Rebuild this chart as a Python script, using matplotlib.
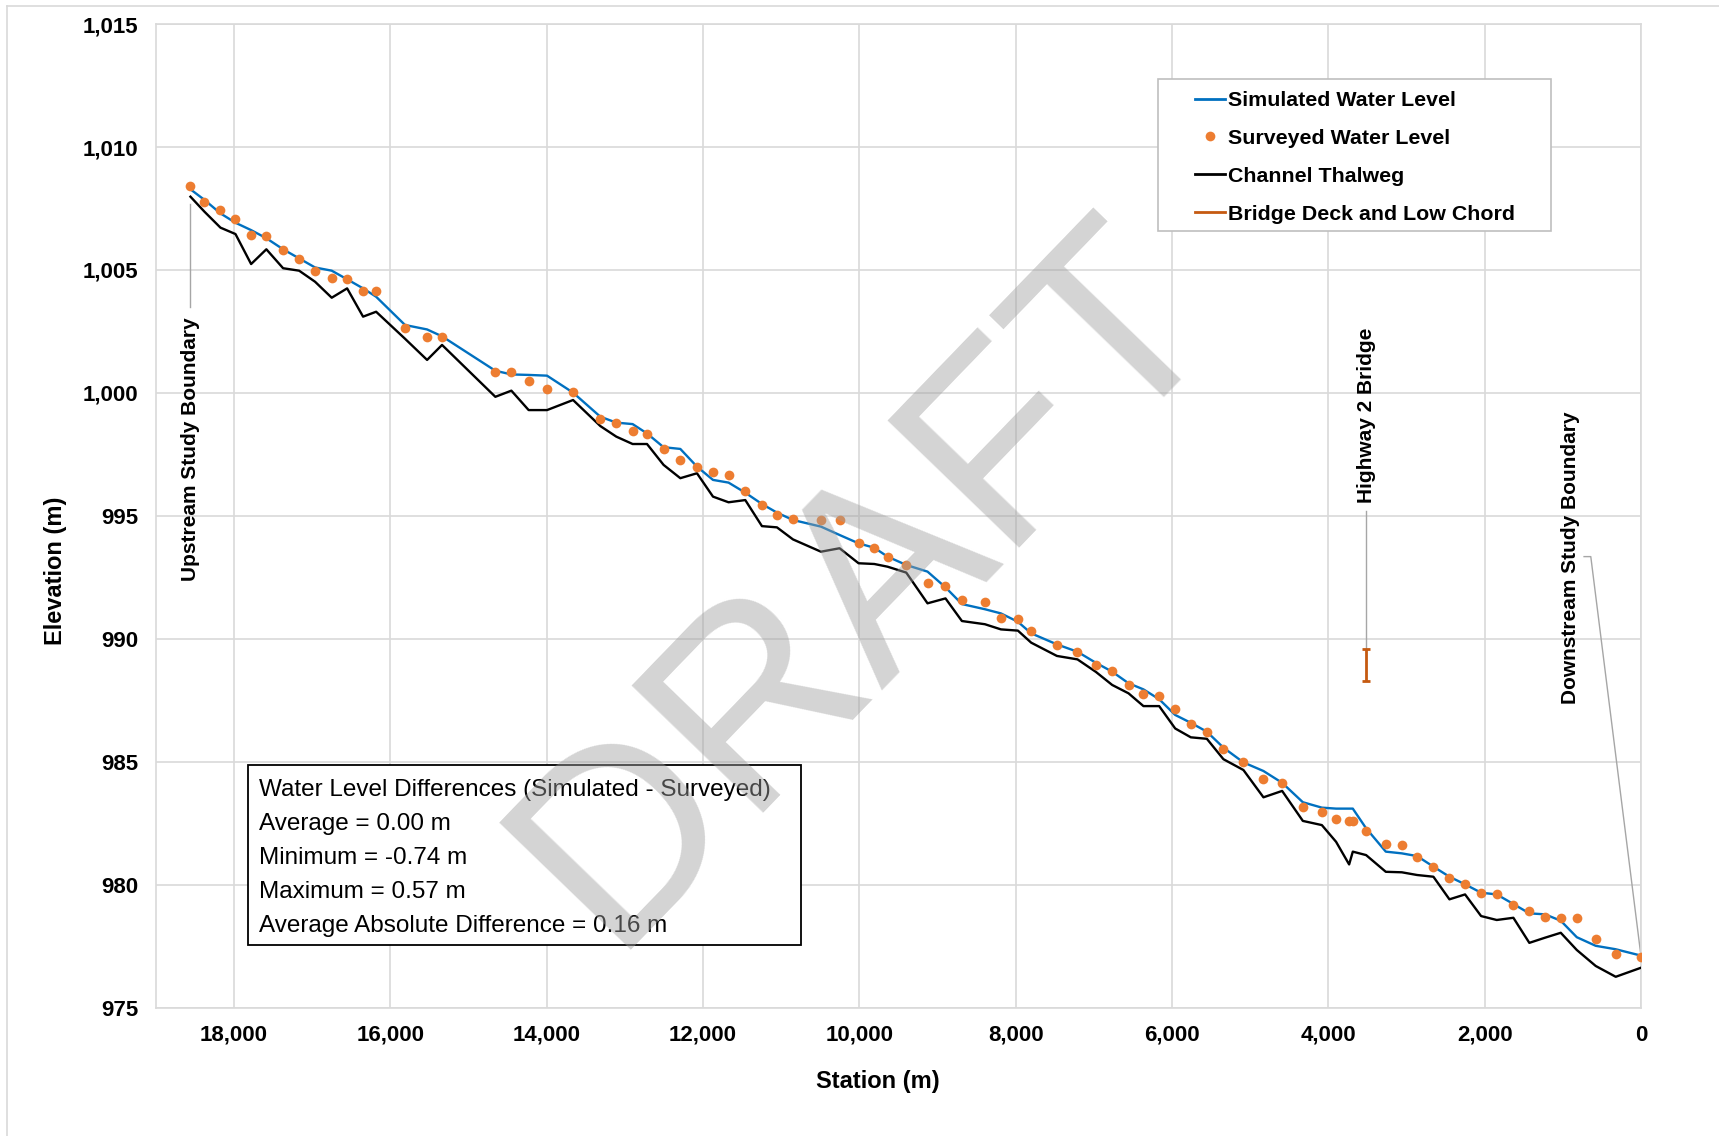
import numpy as np
import matplotlib
matplotlib.use("Agg")
import matplotlib.pyplot as plt
from matplotlib.patches import Rectangle
from matplotlib.lines import Line2D
from matplotlib.ticker import FuncFormatter

plt.rcParams['font.family'] = ['Liberation Sans', 'DejaVu Sans']

# 断面桩号 (m)
station = [18556, 18377, 18172, 17980, 17780, 17585, 17371, 17166, 16962, 16749,
           16552, 16348, 16181, 15811, 15529, 15338, 14656, 14451, 14230, 13995,
           13662, 13313, 13109, 12900, 12716, 12504, 12290, 12077, 11872, 11673,
           11459, 11246, 11054, 10849, 10491, 10253, 10010, 9809, 9639, 9400,
           9128, 8898, 8688, 8394, 8189, 7972, 7802, 7473, 7210, 6974,
           6766, 6557, 6366, 6165, 5960, 5760, 5555, 5343, 5087, 4831,
           4592, 4327, 4084, 3902, 3735, 3688, 3518, 3266, 3061, 2866,
           2657, 2452, 2252, 2047, 1847, 1634, 1430, 1229, 1028, 823,
           581, 325, 0]

# 模拟水位
simulated = [1008.28, 1007.85, 1007.30, 1006.92, 1006.62, 1006.29, 1005.84, 1005.47, 1005.10, 1004.97,
             1004.62, 1004.25, 1003.91, 1002.76, 1002.58, 1002.30, 1000.90, 1000.75, 1000.73, 1000.70,
             1000.01, 999.03, 998.79, 998.73, 998.35, 997.79, 997.72, 997.00, 996.46, 996.35,
             995.94, 995.48, 995.13, 994.83, 994.56, 994.22, 993.88, 993.70, 993.34, 993.00,
             992.73, 992.09, 991.41, 991.20, 991.03, 990.69, 990.22, 989.77, 989.47, 989.02,
             988.66, 988.19, 987.94, 987.54, 986.90, 986.58, 986.22, 985.57, 984.97, 984.62,
             984.14, 983.35, 983.13, 983.09, 983.09, 983.09, 982.29, 981.34, 981.27, 981.16,
             980.73, 980.32, 980.01, 979.67, 979.60, 979.21, 978.83, 978.79, 978.53, 977.86,
             977.51, 977.37, 977.11]

# 实测水位
surveyed = [1008.41, 1007.78, 1007.44, 1007.06, 1006.42, 1006.39, 1005.81, 1005.45, 1004.94, 1004.67,
            1004.63, 1004.14, 1004.14, 1002.65, 1002.26, 1002.26, 1000.84, 1000.84, 1000.50, 1000.14,
            1000.04, 998.92, 998.76, 998.45, 998.33, 997.70, 997.27, 996.97, 996.78, 996.67,
            996.01, 995.44, 995.03, 994.86, 994.83, 994.83, 993.88, 993.68, 993.34, 993.00,
            992.25, 992.14, 991.57, 991.48, 990.83, 990.79, 990.31, 989.76, 989.46, 988.94,
            988.67, 988.13, 987.75, 987.67, 987.15, 986.53, 986.20, 985.52, 984.97, 984.28,
            984.12, 983.16, 982.96, 982.67, 982.60, 982.57, 982.19, 981.64, 981.61, 981.11,
            980.73, 980.26, 980.01, 979.64, 979.60, 979.17, 978.92, 978.69, 978.65, 978.63,
            977.77, 977.16, 977.04]

# 河床深泓线
thalweg = [1007.98, 1007.37, 1006.72, 1006.46, 1005.24, 1005.84, 1005.07, 1004.97, 1004.52, 1003.87,
           1004.25, 1003.10, 1003.30, 1002.20, 1001.34, 1001.95, 999.84, 1000.09, 999.30, 999.30,
           999.71, 998.65, 998.22, 997.92, 997.92, 997.07, 996.53, 996.73, 995.78, 995.55,
           995.64, 994.58, 994.53, 994.04, 993.54, 993.68, 993.07, 993.04, 992.93, 992.69,
           991.44, 991.64, 990.72, 990.59, 990.38, 990.33, 989.84, 989.30, 989.16, 988.65,
           988.12, 987.78, 987.26, 987.26, 986.35, 985.99, 985.93, 985.10, 984.66, 983.55,
           983.81, 982.59, 982.42, 981.74, 980.82, 981.34, 981.20, 980.52, 980.50, 980.39,
           980.32, 979.40, 979.60, 978.72, 978.56, 978.65, 977.63, 977.84, 978.04, 977.34,
           976.69, 976.25, 976.62]

# 桥梁
bridge_station = 3514
bridge_low_chord = 988.28
bridge_deck = 989.58

x_ticks = list(range(0, 18001, 2000))
y_ticks = list(range(975, 1016, 5))

stats_lines = ["Water Level Differences (Simulated - Surveyed)",
               "Average = 0.00 m",
               "Minimum = -0.74 m",
               "Maximum = 0.57 m",
               "Average Absolute Difference = 0.16 m"]

blue = '#0070C0'
orange = '#ED7D31'
bridge_color = '#C55A11'
grid_color = '#D9D9D9'
leader_color = '#A6A6A6'

fig = plt.figure(figsize=(17.19, 11.36), dpi=100)
ax = fig.add_axes([0.0906, 0.1131, 0.8641, 0.8657])

# 外框
fig.add_artist(Line2D([0.004, 0.004], [0.0, 0.995], transform=fig.transFigure, color=grid_color, lw=1.2))
fig.add_artist(Line2D([0.004, 1.0], [0.995, 0.995], transform=fig.transFigure, color=grid_color, lw=1.2))

ax.plot(station, simulated, color=blue, lw=1.7, zorder=3)
ax.plot(station, surveyed, 'o', color=orange, ms=7, mec='none', zorder=4)
ax.plot(station, thalweg, color='black', lw=1.7, zorder=3)
ax.errorbar([bridge_station], [bridge_low_chord], yerr=[[0], [bridge_deck - bridge_low_chord]],
            fmt='none', ecolor=bridge_color, elinewidth=2, capsize=3, capthick=2, zorder=4)

ax.set_xlim(19000, 0)
ax.set_ylim(975, 1015)
ax.set_xticks(x_ticks)
ax.set_yticks(y_ticks)
ax.xaxis.set_major_formatter(FuncFormatter(lambda v, p: '{:,.0f}'.format(v)))
ax.yaxis.set_major_formatter(FuncFormatter(lambda v, p: '{:,.0f}'.format(v)))
ax.tick_params(length=0, labelsize=16)
for lab in ax.get_xticklabels() + ax.get_yticklabels():
    lab.set_fontweight('bold')
ax.tick_params(axis='x', pad=12.5)
ax.tick_params(axis='y', pad=12.4)
ax.grid(True, color=grid_color, lw=1.2, zorder=0)
ax.set_axisbelow(True)
for sp in ax.spines.values():
    sp.set_color(grid_color)
    sp.set_linewidth(1.2)

ax.set_xlabel("Station (m)", fontsize=17, fontweight='bold')
ax.set_ylabel("Elevation (m)", fontsize=17, fontweight='bold')
ax.xaxis.set_label_coords(0.4863, -0.0634)
ax.yaxis.set_label_coords(-0.0598, 0.4439)

# 标注
ax.plot([station[0], station[0]], [1007.7, 1003.5], color=leader_color, lw=1, zorder=2)
ax.text(station[0], 997.7, "Upstream Study Boundary", rotation=90, ha='center', va='center',
        fontsize=15, fontweight='bold')
ax.plot([bridge_station, bridge_station], [bridge_deck, 995.2], color=leader_color, lw=1, zorder=2)
ax.text(bridge_station, 999.07, "Highway 2 Bridge", rotation=90, ha='center', va='center',
        fontsize=15, fontweight='bold')
ax.plot([730, 644, station[-1]], [993.34, 993.34, surveyed[-1]], color=leader_color, lw=1, zorder=2)
ax.text(900, 993.3, "Downstream Study Boundary", rotation=90, ha='center', va='center',
        fontsize=15, fontweight='bold')

# 统计框
ax.add_patch(Rectangle((0.062, 0.0636), 0.3727, 0.183, transform=ax.transAxes,
                       facecolor='white', edgecolor='black', lw=1.3, zorder=5))
for i, line in enumerate(stats_lines):
    ax.text(0.0693, 0.2212 - i * 0.0346, line, transform=ax.transAxes, ha='left', va='center',
            fontsize=17.5, zorder=6)

# 图例
ax.add_patch(Rectangle((0.6746, 0.7893), 0.2649, 0.1549, transform=ax.transAxes,
                       facecolor='white', edgecolor='#BFBFBF', lw=1.2, zorder=5))
handles = [Line2D([], [], color=blue, lw=2),
           Line2D([], [], ls='none', marker='o', color=orange, ms=7, mec='none'),
           Line2D([], [], color='black', lw=2),
           Line2D([], [], color=bridge_color, lw=2)]
labels = ["Simulated Water Level", "Surveyed Water Level", "Channel Thalweg", "Bridge Deck and Low Chord"]
leg = ax.legend(handles, labels, loc='upper left', bbox_to_anchor=(0.6997, 0.9318), frameon=False,
                borderpad=0, borderaxespad=0, handlelength=1.4, handletextpad=0.15, labelspacing=0.88,
                prop={'size': 15.4, 'weight': 'bold'})
leg.set_zorder(6)

# 水印
ax.text(0.5115, 0.382, "DRAFT", transform=ax.transAxes, rotation=46, rotation_mode='anchor',
        ha='center', va='baseline', fontsize=191, color='#A0A0A0', alpha=0.45, zorder=10)

plt.savefig("out.png", dpi=100)
